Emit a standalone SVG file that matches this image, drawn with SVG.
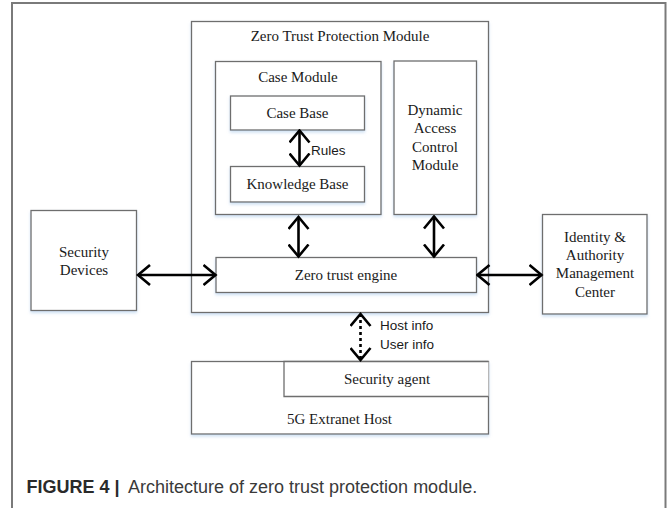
<svg xmlns="http://www.w3.org/2000/svg" width="667" height="508" viewBox="0 0 667 508">
  <defs>
    <style>
      .box { fill: #ffffff; stroke: #6e6e6e; stroke-width: 1.3; filter: url(#glow); }
      .lbl { font-family: "Liberation Serif", "Times New Roman", serif; font-size: 15px; fill: #1a1a1a; text-anchor: middle; }
      .note { font-family: "Liberation Sans", Arial, sans-serif; font-size: 13.5px; fill: #1a1a1a; }
      .link { fill: none; stroke: #000; stroke-width: 2.6; marker-start: url(#chev); marker-end: url(#chev); }
      .dotted { stroke-dasharray: 3 3; }
      .cap { font-family: "Liberation Sans", Arial, sans-serif; font-size: 18px; fill: #3a3a3a; }
    </style>
    <filter id="glow" x="-10%" y="-10%" width="120%" height="130%">
      <feDropShadow dx="0" dy="2" stdDeviation="1.8" flood-color="#a9c8ea" flood-opacity="0.55"/>
    </filter>
    <marker id="chev" markerUnits="userSpaceOnUse" viewBox="-13 -11 15 22" refX="0" refY="0"
            markerWidth="15" markerHeight="22" orient="auto-start-reverse">
      <path d="M-12,-10 L0,0 L-12,10" fill="none" stroke="#000" stroke-width="2.6" stroke-linejoin="miter"/>
    </marker>
  </defs>

  <rect width="667" height="508" fill="#ffffff"/>
  <!-- page frame -->
  <rect x="12" y="3" width="653.5" height="530" fill="none" stroke="#7a7a7a" stroke-width="2"/>

  <g id="zero-trust-protection-module">
    <rect class="box" x="191.5" y="21.5" width="297" height="291"/>
    <text class="lbl" x="340" y="41">Zero Trust Protection Module</text>
  </g>

  <g id="case-module">
    <rect class="box" x="215.5" y="61.5" width="165.5" height="153"/>
    <text class="lbl" x="298" y="81.5">Case Module</text>
  </g>

  <g id="case-base">
    <rect class="box" x="230.5" y="96" width="134" height="34"/>
    <text class="lbl" x="297.5" y="118">Case Base</text>
  </g>

  <g id="knowledge-base">
    <rect class="box" x="230.5" y="166.5" width="134" height="35.5"/>
    <text class="lbl" x="297.5" y="189">Knowledge Base</text>
  </g>

  <g id="dynamic-access-control">
    <rect class="box" x="394" y="61" width="82.5" height="153.5"/>
    <text class="lbl" x="435" y="115">Dynamic</text>
    <text class="lbl" x="435" y="133.3">Access</text>
    <text class="lbl" x="435" y="151.6">Control</text>
    <text class="lbl" x="435" y="170">Module</text>
  </g>

  <g id="zero-trust-engine">
    <rect class="box" x="216" y="257.5" width="260.5" height="35"/>
    <text class="lbl" x="346" y="280">Zero trust engine</text>
  </g>

  <g id="security-devices">
    <rect class="box" x="31" y="210.5" width="105.5" height="100"/>
    <text class="lbl" x="84" y="256.5">Security</text>
    <text class="lbl" x="84" y="275">Devices</text>
  </g>

  <g id="identity-authority-center">
    <rect class="box" x="542.5" y="214.5" width="104.5" height="99.5"/>
    <text class="lbl" x="595" y="241.5">Identity &amp;</text>
    <text class="lbl" x="595" y="260">Authority</text>
    <text class="lbl" x="595" y="278.3">Management</text>
    <text class="lbl" x="595" y="296.6">Center</text>
  </g>

  <g id="extranet-host">
    <rect class="box" x="191.5" y="361.5" width="297" height="72.5"/>
    <text class="lbl" x="339.5" y="424">5G Extranet Host</text>
  </g>

  <g id="security-agent">
    <path d="M488.5,361.5 H284 V396.5 H488.5" fill="#ffffff" stroke="#6e6e6e" stroke-width="1.3"/>
    <text class="lbl" x="387" y="384">Security agent</text>
  </g>

  <g id="connectors">
    <line class="link" x1="299.5" y1="130.5" x2="299.5" y2="165.5"/>
    <line class="link" x1="298.5" y1="217" x2="298.5" y2="256.5"/>
    <line class="link" x1="434" y1="216.5" x2="434" y2="256.5"/>
    <line class="link" x1="138" y1="275" x2="215.5" y2="275"/>
    <line class="link" x1="477.5" y1="275" x2="541.5" y2="275"/>
    <line class="link dotted" x1="360.5" y1="314" x2="360.5" y2="360"/>
    <text class="note" x="311" y="155">Rules</text>
    <text class="note" x="380" y="330">Host info</text>
    <text class="note" x="380" y="348.5">User info</text>
  </g>

  <text class="cap" x="26.5" y="493"><tspan font-weight="bold" fill="#2a2a2a">FIGURE 4 |</tspan><tspan x="128">Architecture of zero trust protection module.</tspan></text>
</svg>
